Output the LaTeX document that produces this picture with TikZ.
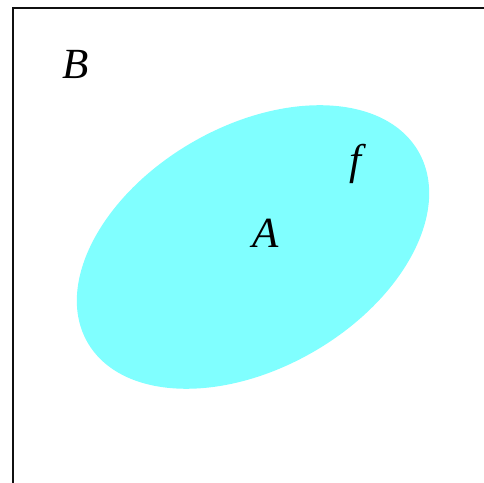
\documentclass[tikz,border=0pt]{standalone}
\usepackage{fontspec}
\setmainfont{Liberation Serif}
\usepackage{tikz}
\usetikzlibrary{positioning}
\usepackage{xcolor}
\definecolor{setcyan}{HTML}{80FFFF}
\definecolor{framegray}{HTML}{101010}

\begin{document}
\begin{tikzpicture}[x=1pt, y=1pt, font=\fontsize{43}{50}\selectfont\itshape]
    \useasboundingbox (0,0) rectangle (484,482);
    \clip (0,0) rectangle (484,482);
    \draw[framegray, line width=1.2pt] (13,-20) |- (520,474);
    \fill[setcyan, rotate around={30:(253,235)}] (253,235) ellipse [x radius=191, y radius=121];
    \node (setB) at (76,418) {B};
    \node (fnf) at (355,318) {f};
    \node (setA) at (266,249) {A};
  \end{tikzpicture}
\end{document}
